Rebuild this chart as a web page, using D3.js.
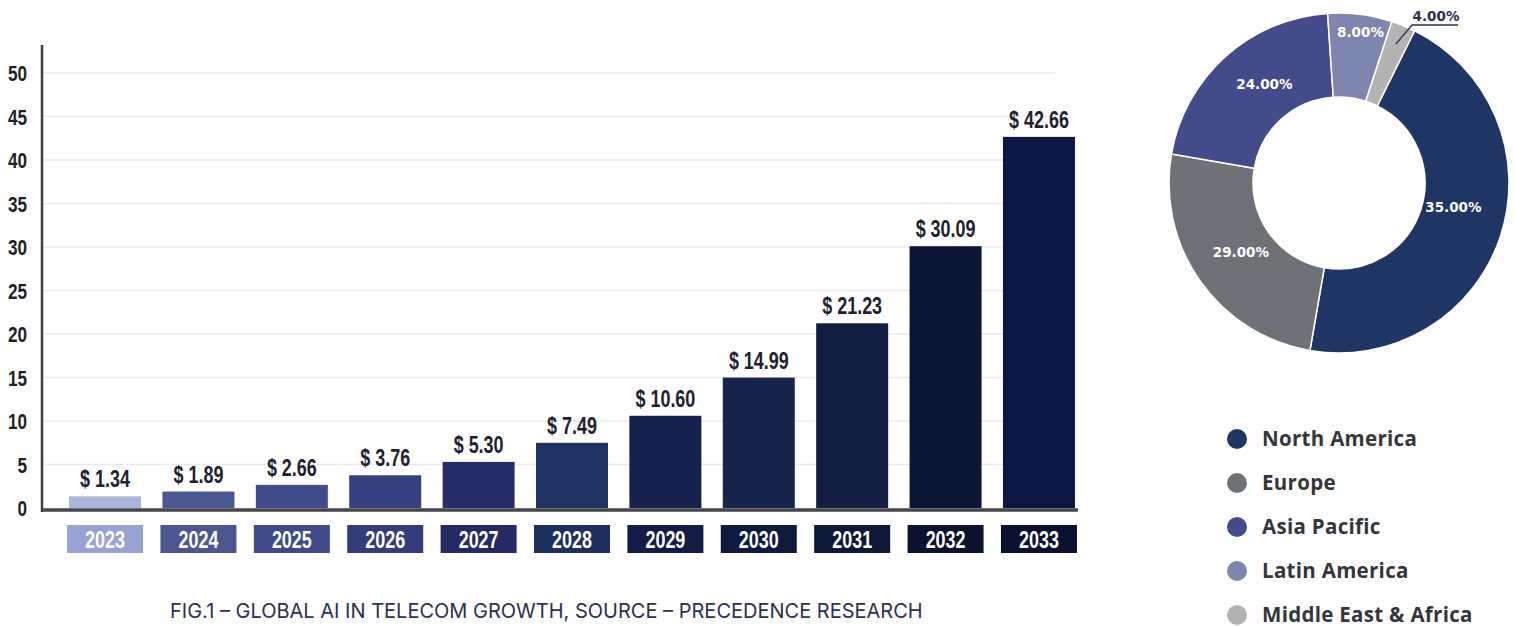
<!DOCTYPE html>
<html>
<head>
<meta charset="utf-8">
<script src="https://cdn.jsdelivr.net/npm/d3@7"></script>
<style>
  html, body { margin: 0; padding: 0; background: #fff; }
  svg { display: block; }
</style>
</head>
<body>
<svg id="chart" width="1515" height="626"></svg>
<script>
const years = ["2023", "2024", "2025", "2026", "2027", "2028", "2029", "2030", "2031", "2032", "2033"];
const marketSize = [1.34, 1.89, 2.66, 3.76, 5.30, 7.49, 10.60, 14.99, 21.23, 30.09, 42.66];
const yTicks = [0, 5, 10, 15, 20, 25, 30, 35, 40, 45, 50];

const regions = ["North America", "Europe", "Asia Pacific", "Latin America", "Middle East & Africa"];
const regionLabels = ["35.00%", "29.00%", "24.00%", "8.00%", "4.00%"];
// slice sizes as they are drawn in the picture (the printed labels don't add up to the arcs)
const regionArc = [45.4, 25.0, 21.2, 6.1, 2.3];

const barColors = ["#aab3d8", "#4b5793", "#414c8c", "#37407f", "#272d6b", "#1f3462", "#16214d", "#17244b", "#121d42", "#0d1537", "#0b1642"];
const boxColors = ["#97a3d3", "#4c5690", "#3e4a8a", "#343d7c", "#232a66", "#1c2f5e", "#121c45", "#0f1a3f", "#0d1738", "#0a1230", "#0a1130"];
const regionColors = ["#1f3563", "#6e7176", "#444b8a", "#7e86ae", "#b3b3b3"];

// no condensed face installed, so squeeze a bold sans horizontally
const narrow = "'Liberation Sans', Arial, sans-serif";
const squeeze = 0.78;
const wideBold = "'Open Sans', 'Noto Sans', sans-serif";

let svg = d3.select("#chart");

// ---- bar chart ----
let x = d3.scaleBand()
  .domain(years)
  .range([58.3, 1085.7])
  .paddingInner(0.229)
  .paddingOuter(0.115);

let y = d3.scaleLinear()
  .domain([0, 50])
  .range([508, 73]);

// gridlines
svg.append("g")
  .selectAll("line")
  .data(yTicks.filter((d) => d > 0))
  .join("line")
  .attr("x1", 44)
  .attr("x2", 1055)
  .attr("y1", (d) => y(d))
  .attr("y2", (d) => y(d))
  .attr("stroke", "#ebebeb")
  .attr("stroke-width", 1.5);

// y tick labels
svg.append("g")
  .selectAll("text")
  .data(yTicks)
  .join("text")
  .attr("transform", (d) => `translate(27, ${y(d) + 8}) scale(${squeeze}, 1)`)
  .attr("text-anchor", "end")
  .attr("font-family", narrow)
  .attr("font-weight", "700")
  .attr("font-size", "22px")
  .attr("fill", "#1e1e24")
  .text((d) => d);

// bars
svg.append("g")
  .selectAll("rect")
  .data(marketSize)
  .join("rect")
  .attr("x", (d, i) => x(years[i]))
  .attr("y", (d) => y(d))
  .attr("width", x.bandwidth())
  .attr("height", (d) => y(0) - y(d))
  .attr("fill", (d, i) => barColors[i]);

// axis lines
svg.append("line")
  .attr("x1", 42).attr("x2", 42)
  .attr("y1", 45).attr("y2", 512)
  .attr("stroke", "#3e3e44")
  .attr("stroke-width", 2.5);

svg.append("line")
  .attr("x1", 42).attr("x2", 1078)
  .attr("y1", 510).attr("y2", 510)
  .attr("stroke", "#45454b")
  .attr("stroke-width", 3.5);

// value labels
svg.append("g")
  .selectAll("text")
  .data(marketSize)
  .join("text")
  .attr("transform", (d, i) => `translate(${x(years[i]) + x.bandwidth() / 2}, ${y(d) - 9}) scale(${squeeze}, 1)`)
  .attr("text-anchor", "middle")
  .attr("font-family", narrow)
  .attr("font-weight", "700")
  .attr("font-size", "23px")
  .attr("fill", "#1f2230")
  .text((d) => "$ " + d.toFixed(2));

// year boxes
let yearBox = svg.append("g")
  .selectAll("g")
  .data(years)
  .join("g")
  .attr("transform", (d) => `translate(${x(d) + x.bandwidth() / 2}, 525)`);

yearBox.append("rect")
  .attr("x", -38)
  .attr("width", 76)
  .attr("height", 28)
  .attr("fill", (d, i) => boxColors[i]);

yearBox.append("text")
  .attr("transform", `translate(0, 22.5) scale(${squeeze}, 1)`)
  .attr("text-anchor", "middle")
  .attr("font-family", narrow)
  .attr("font-weight", "700")
  .attr("font-size", "23px")
  .attr("fill", "#fff")
  .text((d) => d);

// caption
svg.append("text")
  .attr("x", 170)
  .attr("y", 618)
  .attr("font-family", "Inter, 'Noto Sans', sans-serif")
  .attr("font-weight", "400")
  .attr("font-size", "20px")
  .attr("fill", "#2b3152")
  .text("FIG.1 – GLOBAL AI IN TELECOM GROWTH, SOURCE – PRECEDENCE RESEARCH");

// ---- donut ----
const cx = 1339, cy = 183;
const start = (26.4 * Math.PI) / 180;

let pie = d3.pie()
  .sort(null)
  .value((d) => d)
  .startAngle(start)
  .endAngle(start + 2 * Math.PI);

let arcs = pie(regionArc);

let arc = d3.arc().innerRadius(86).outerRadius(170);

// label placement: radius and angle nudge (degrees) per slice
const labelRadius = [117, 120, 124, 152];
const labelNudge = [-6, 0, 5, 1];

let donut = svg.append("g").attr("transform", `translate(${cx}, ${cy})`);

donut.selectAll("path")
  .data(arcs)
  .join("path")
  .attr("d", arc)
  .attr("fill", (d, i) => regionColors[i])
  .attr("stroke", "#fff")
  .attr("stroke-width", 1.5);

donut.selectAll("text.slice")
  .data(arcs.slice(0, 4))
  .join("text")
  .attr("class", "slice")
  .attr("transform", (d, i) => {
    let a = (d.startAngle + d.endAngle) / 2 + (labelNudge[i] * Math.PI) / 180;
    let r = labelRadius[i];
    return `translate(${r * Math.sin(a)}, ${-r * Math.cos(a)})`;
  })
  .attr("dy", "0.35em")
  .attr("text-anchor", "middle")
  .attr("font-family", "'DejaVu Sans', sans-serif")
  .attr("font-weight", "700")
  .attr("font-size", "13.5px")
  .attr("fill", "#fff")
  .text((d, i) => regionLabels[i]);

// small slice label with leader line
let mea = arcs[4];
let meaPt = d3.arc().innerRadius(150).outerRadius(150).centroid(mea);
donut.append("polyline")
  .attr("points", [[meaPt[0], meaPt[1]], [1412 - cx, 25 - cy], [1458 - cx, 25 - cy]].map((p) => p.join(",")).join(" "))
  .attr("fill", "none")
  .attr("stroke", "#2c3050")
  .attr("stroke-width", 1.3);

donut.append("text")
  .attr("x", 1436 - cx)
  .attr("y", 21 - cy)
  .attr("text-anchor", "middle")
  .attr("font-family", "'DejaVu Sans', sans-serif")
  .attr("font-weight", "700")
  .attr("font-size", "13.5px")
  .attr("fill", "#2c3050")
  .text(regionLabels[4]);

// legend
let legend = svg.append("g")
  .selectAll("g")
  .data(regions)
  .join("g")
  .attr("transform", (d, i) => `translate(1237, ${439 + i * 44})`);

legend.append("circle")
  .attr("r", 10)
  .attr("fill", (d, i) => regionColors[i]);

legend.append("text")
  .attr("x", 25)
  .attr("y", 6.5)
  .attr("font-family", wideBold)
  .attr("font-weight", "700")
  .attr("font-size", "20.5px")
  .attr("letter-spacing", "0.3px")
  .attr("fill", "#35363b")
  .text((d) => d);
</script>
</body>
</html>
